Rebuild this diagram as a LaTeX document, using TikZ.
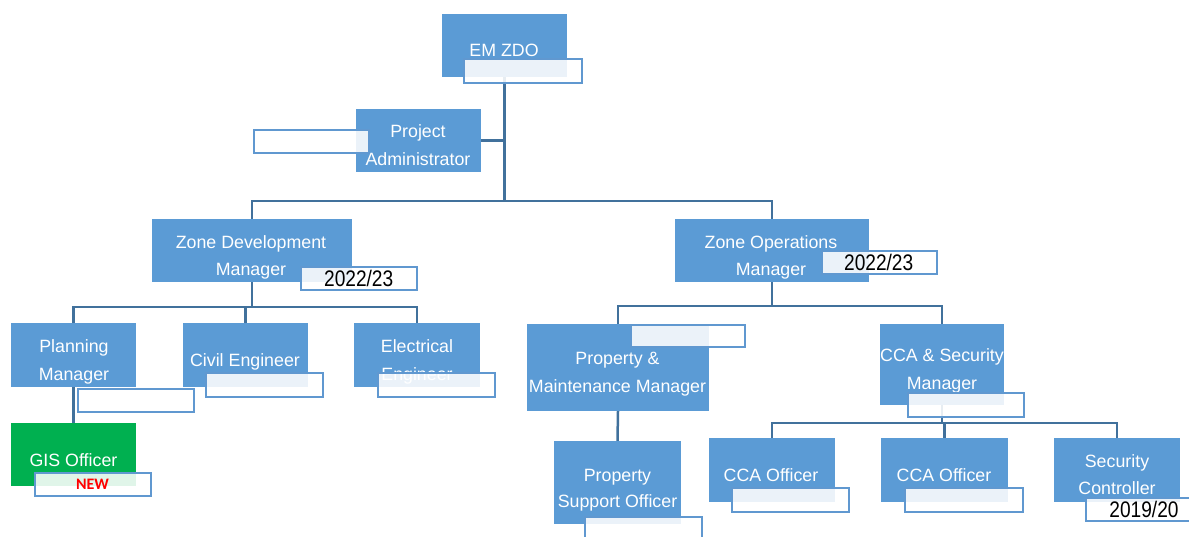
\documentclass[tikz,border=0pt]{standalone}
\usepackage{fontspec}
\setmainfont{Liberation Sans}
\newfontfamily\yearfont[FakeStretch=0.85]{Liberation Sans}
\newfontfamily\flagfont{Carlito}
\usetikzlibrary{backgrounds}
\definecolor{postblue}{RGB}{91,155,213}
\definecolor{newgreen}{RGB}{0,176,80}
\definecolor{tagblue}{RGB}{96,152,208}
\definecolor{linkblue}{RGB}{65,113,156}
\begin{document}
\begin{tikzpicture}[x=1pt,y=-1pt,
  post/.style={fill=postblue, draw=none, inner sep=0pt, minimum height=63pt},
  newpost/.style={post, fill=newgreen},
  tag/.style={draw=tagblue, line width=2.7pt, fill=white, fill opacity=0.88,
    inner sep=0pt, minimum width=116pt, minimum height=23pt},
  link/.style={draw=linkblue, line width=2.5pt},
  title/.style={text=white, font=\fontsize{17.8}{20}\selectfont, anchor=base, inner sep=0pt},
  year/.style={text=black, font=\yearfont\fontsize{22.5}{24}\selectfont, anchor=base, inner sep=0pt},
  flag/.style={text=red, font=\flagfont\bfseries\fontsize{16}{18}\selectfont, anchor=base, inner sep=0pt}]
\useasboundingbox (0,0) rectangle (1189,536);

% posts
\node[post, minimum width=125pt] (emzdo) at (504.5,45.5) {};
\node[post, minimum width=125pt] (pa) at (418.5,140.5) {};
\node[post, minimum width=200pt] (zdm) at (252,250.5) {};
\node[post, minimum width=194pt] (zom) at (772,250.5) {};
\node[post, minimum width=125pt, minimum height=64pt] (plan) at (73.5,355) {};
\node[post, minimum width=125pt, minimum height=64pt] (civil) at (245.5,355) {};
\node[post, minimum width=126pt, minimum height=64pt] (elec) at (417,355) {};
\node[newpost, minimum width=125pt] (gis) at (73.5,454.5) {};
\node[post, minimum width=182pt, minimum height=87pt] (pmm) at (618,367.5) {};
\node[post, minimum width=124pt, minimum height=81pt] (ccasm) at (942,364.5) {};
\node[post, minimum width=127pt, minimum height=83pt] (pso) at (617.5,482.5) {};
\node[post, minimum width=126pt, minimum height=64pt] (ccaa) at (772,470) {};
\node[post, minimum width=127pt, minimum height=64pt] (ccab) at (944.5,470) {};
\node[post, minimum width=126pt, minimum height=64pt] (sec) at (1117,470) {};

% reporting lines
\begin{scope}[on background layer]
  \coordinate (hub1) at (504,201);
  \coordinate (hub2) at (252,307);
  \coordinate (hub3) at (772,306);
  \coordinate (hub4) at (942,423);
  \draw[link] (emzdo.south) -- (emzdo.south |- hub1);
  \draw[link] (pa.east) -- (pa.east -| hub1);
  \draw[link] (zdm.north) |- (hub1) -| (zom.north);
  \draw[link] (zdm.south) -- (hub2);
  \draw[link] (plan.north) |- (hub2) -| (elec.north);
  \draw[link] (civil.north) -- (civil.north |- hub2);
  \draw[link] (plan.south) -- (gis.north);
  \draw[link] (zom.south) -- (hub3);
  \draw[link] (pmm.north) |- (hub3) -| (ccasm.north);
  \draw[link] (pmm.south) -- (pso.north);
  \draw[link] (ccasm.south) -- (hub4);
  \draw[link] (ccaa.north) |- (hub4) -| (sec.north);
  \draw[link] (ccab.north) -- (ccab.north |- hub4);
\end{scope}

% titles
\node[title] (emzdo-t) at (504,56) {EM ZDO};
\node[title] (pa-t1) at (418,137.5) {Project};
\node[title] (pa-t2) at (418,165) {Administrator};
\node[title] (zdm-t1) at (251,248) {Zone Development};
\node[title] (zdm-t2) at (251,275.5) {Manager};
\node[title] (zom-t1) at (771,248) {Zone Operations};
\node[title] (zom-t2) at (771,275.5) {Manager};
\node[title] (plan-t1) at (74,352.5) {Planning};
\node[title] (plan-t2) at (74,380) {Manager};
\node[title] (civil-t) at (245,366) {Civil Engineer};
\node[title] (elec-t1) at (417,352.5) {Electrical};
\node[title] (elec-t2) at (417,380) {Engineer};
\node[title] (gis-t) at (73.5,466) {GIS Officer};
\node[title] (pmm-t1) at (617.5,364.5) {Property \&};
\node[title] (pmm-t2) at (617.5,392.5) {Maintenance Manager};
\node[title] (ccasm-t1) at (942,361) {CCA \& Security};
\node[title] (ccasm-t2) at (942,389) {Manager};
\node[title] (pso-t1) at (617.5,481) {Property};
\node[title] (pso-t2) at (617.5,507.5) {Support Officer};
\node[title] (ccaa-t) at (771,481) {CCA Officer};
\node[title] (ccab-t) at (944,481) {CCA Officer};
\node[title] (sec-t1) at (1117,467.5) {Security};
\node[title] (sec-t2) at (1117,494.5) {Controller};

% tags
\node[tag, minimum width=118pt, minimum height=24pt] (emzdo-tag) at (523,71) {};
\node[tag, minimum width=115pt] (pa-tag) at (311.5,141.5) {};
\node[tag] (zdm-tag) at (359,278.5) {};
\node[tag, minimum width=115pt] (zom-tag) at (879.5,262.5) {};
\node[tag] (plan-tag) at (136,400.5) {};
\node[tag, minimum width=117pt, minimum height=24pt] (civil-tag) at (264.5,385) {};
\node[tag, minimum width=117pt, minimum height=24pt] (elec-tag) at (436.5,385) {};
\node[tag] (gis-tag) at (93,484.5) {};
\node[tag, minimum width=114pt, minimum height=22pt] (pmm-tag) at (688,336) {};
\node[tag, minimum height=24pt] (ccasm-tag) at (966,405) {};
\node[tag, minimum width=117pt] (pso-tag) at (643.5,528.5) {};
\node[tag, minimum width=117pt, minimum height=24pt] (ccaa-tag) at (790.5,500) {};
\node[tag, minimum width=118pt, minimum height=24pt] (ccab-tag) at (964,500) {};
\node[tag] (sec-tag) at (1144,509.5) {};

% tag texts
\node[year] (zdm-year) at (358.7,286) {2022/23};
\node[year] (zom-year) at (878.7,270) {2022/23};
\node[year] (sec-year) at (1144,517.7) {2019/20};
\node[flag] (gis-flag) at (92.5,489.3) {NEW};
\end{tikzpicture}
\end{document}
